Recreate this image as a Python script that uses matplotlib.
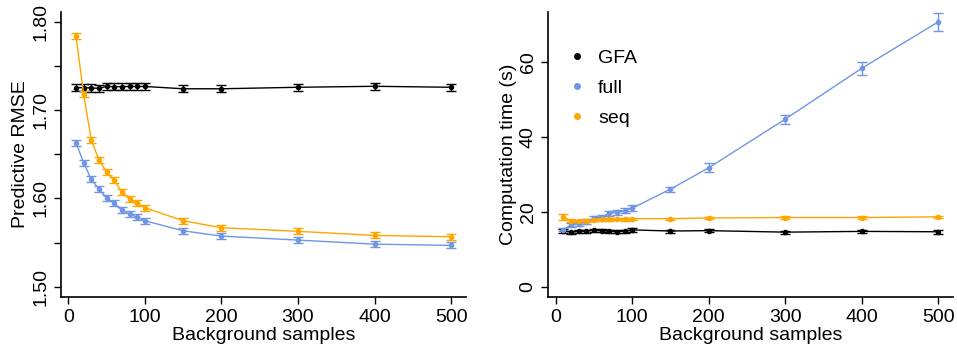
import matplotlib
matplotlib.use("Agg")
import matplotlib.pyplot as plt
from matplotlib.ticker import MultipleLocator

plt.rcParams["font.family"] = ["Liberation Sans", "DejaVu Sans"]

# Données
samples = [10, 20, 30, 40, 50, 60, 70, 80, 90, 100, 150, 200, 300, 400, 500]

rmse_gfa = [1.7253, 1.7253, 1.7249, 1.7245, 1.7268, 1.7264, 1.7264, 1.7266, 1.7266, 1.7266,
            1.7240, 1.7240, 1.7257, 1.7268, 1.7257]
rmse_gfa_se = [0.004] * 15
rmse_full = [1.6630, 1.6403, 1.6215, 1.6105, 1.6003, 1.5943, 1.5864, 1.5822, 1.5788, 1.5747,
             1.5633, 1.5573, 1.5528, 1.5482, 1.5468]
rmse_full_se = [0.0035] * 15
rmse_seq = [1.7841, 1.7178, 1.6661, 1.6434, 1.6298, 1.6208, 1.6072, 1.5992, 1.5943, 1.5894,
            1.5747, 1.5668, 1.5627, 1.5581, 1.5566]
rmse_seq_se = [0.0035] * 15

time_gfa = [15.0, 14.6, 14.8, 14.9, 15.1, 15.0, 14.9, 14.7, 14.9, 15.2,
            14.9, 15.0, 14.6, 14.8, 14.7]
time_gfa_se = [0.5, 0.4, 0.4, 0.4, 0.4, 0.4, 0.4, 0.4, 0.4, 0.6, 0.4, 0.4, 0.4, 0.5, 0.5]
time_full = [15.3, 16.5, 16.8, 17.4, 18.3, 18.7, 19.6, 19.9, 20.3, 21.0,
             26.1, 31.8, 44.8, 58.4, 70.8]
time_full_se = [0.5, 0.5, 0.6, 0.6, 0.6, 0.6, 0.6, 0.7, 0.7, 0.8, 0.7, 1.2, 1.2, 1.7, 2.5]
time_seq = [18.7, 17.6, 17.5, 17.7, 17.8, 18.0, 18.0, 18.1, 18.0, 18.2,
            18.2, 18.4, 18.5, 18.5, 18.7]
time_seq_se = [0.8, 0.4, 0.3, 0.3, 0.3, 0.3, 0.3, 0.3, 0.3, 0.3, 0.3, 0.3, 0.3, 0.3, 0.3]

labels = ["GFA", "full", "seq"]
colors = ["black", "#6f95e3", "#ffa500"]


def style_axis(ax):
    # style "R base" : seulement axes gauche et bas
    ax.spines["top"].set_visible(False)
    ax.spines["right"].set_visible(False)
    ax.spines["left"].set_linewidth(1.2)
    ax.spines["bottom"].set_linewidth(1.2)
    ax.tick_params(axis="both", labelsize=14, length=5, width=1)
    ax.tick_params(axis="both", which="minor", length=5, width=1)
    for lab in ax.get_yticklabels():
        lab.set_rotation(90)
        lab.set_va("center")
    ax.set_xlabel("Background samples", fontsize=14, labelpad=1)


def draw(ax, series):
    for (y, se), col in zip(series, colors):
        ax.errorbar(samples, y, yerr=se, color=col, marker="o", markersize=3,
                    linewidth=1, elinewidth=1, capsize=3.3, capthick=1)


fig = plt.figure(figsize=(9.57, 3.52), dpi=100)
ax1 = fig.add_axes([0.0637, 0.157, 0.4233, 0.81])
ax2 = fig.add_axes([0.573, 0.157, 0.423, 0.81])

draw(ax1, [(rmse_gfa, rmse_gfa_se), (rmse_full, rmse_full_se), (rmse_seq, rmse_seq_se)])
ax1.set_xlim(-9.6, 519.6)
ax1.set_ylim(1.4887, 1.8113)
ax1.set_yticks([1.50, 1.60, 1.70, 1.80])
ax1.set_yticklabels(["1.50", "1.60", "1.70", "1.80"])
ax1.yaxis.set_minor_locator(MultipleLocator(0.05))
ax1.set_xticks([0, 100, 200, 300, 400, 500])
ax1.set_ylabel("Predictive RMSE", fontsize=14, labelpad=2)
style_axis(ax1)

draw(ax2, [(time_gfa, time_gfa_se), (time_full, time_full_se), (time_seq, time_seq_se)])
ax2.set_xlim(-9.6, 519.6)
ax2.set_ylim(-2.67, 73.56)
ax2.set_yticks([0, 20, 40, 60])
ax2.set_xticks([0, 100, 200, 300, 400, 500])
ax2.set_ylabel("Computation time (s)", fontsize=14, labelpad=2)
style_axis(ax2)

handles = [plt.Line2D([], [], linestyle="none", marker="o", markersize=4, color=c) for c in colors]
ax2.legend(handles, labels, loc="upper left", bbox_to_anchor=(0.012, 0.93), frameon=False,
           fontsize=14, handlelength=0.6, handletextpad=0.8, labelspacing=0.65)

fig.savefig("out.png", dpi=100)
